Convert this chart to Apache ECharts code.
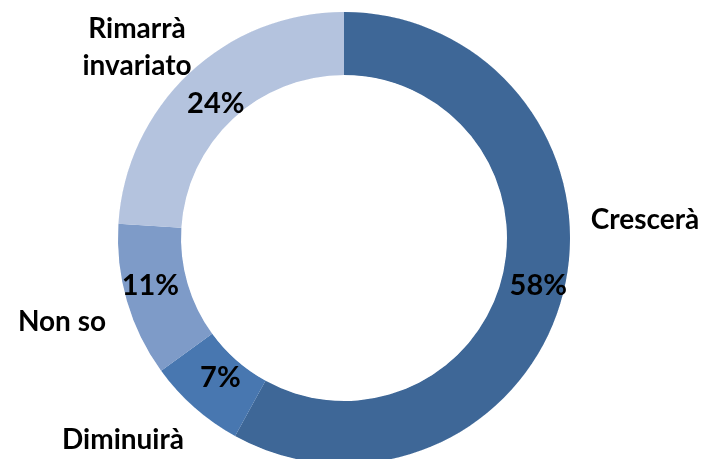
<!DOCTYPE html>
<html>
<head>
<meta charset="utf-8">
<script src="https://cdn.jsdelivr.net/npm/echarts@6/dist/echarts.min.js"></script>
<style>
html,body{margin:0;padding:0;background:#fff;}
#main{width:706px;height:459px;}
</style>
</head>
<body>
<div id="main"></div>
<script>
'use strict';
// dati
var categorie = ['Crescerà', 'Diminuirà', 'Non so', 'Rimarrà\ninvariato'];
var valori = [58, 7, 11, 24];
var colori = ['#3e6797', '#4877b0', '#7e9bc8', '#b4c3de'];
// posizione delle etichette esterne (come nel grafico originale)
var posEtichette = [[645, 220], [123, 440], [62, 322], [137, 47]];
// piccoli spostamenti delle percentuali
var spostPerc = [[3, -1], [7, -9], [-4, -7], [7, 10]];

var FONT = 'Lato, "Liberation Sans", sans-serif';

var dati = categorie.map(function (c, i) {
	return { name: c, value: valori[i], itemStyle: { color: colori[i] } };
});

var chart = echarts.init(document.getElementById('main'));
chart.setOption({
	animation: false,
	series: [
		{
			type: 'pie',
			center: [344, 238],
			radius: [163, 226],
			startAngle: 90,
			clockwise: true,
			data: dati,
			itemStyle: { borderColor: '#fff', borderWidth: 1 },
			label: {
				position: 'inside',
				formatter: '{c}%',
				color: '#000',
				fontFamily: FONT,
				fontWeight: 'bold',
				fontSize: 29
			},
			labelLine: { show: false },
			labelLayout: function (p) {
				var d = spostPerc[p.dataIndex];
				return { dx: d[0], dy: d[1] };
			},
			silent: true
		},
		{
			type: 'pie',
			center: [344, 238],
			radius: [163, 226],
			startAngle: 90,
			clockwise: true,
			data: dati,
			itemStyle: { color: 'rgba(0,0,0,0)' },
			label: {
				position: 'outside',
				alignTo: 'none',
				overflow: 'none',
				formatter: '{b}',
				color: '#000',
				fontFamily: FONT,
				fontWeight: 'bold',
				fontSize: 28,
				lineHeight: 37,
				align: 'center'
			},
			labelLine: { show: false },
			labelLayout: function (p) {
				var pt = posEtichette[p.dataIndex];
				return { x: pt[0], y: pt[1], align: 'center', verticalAlign: 'middle' };
			},
			silent: true
		}
	]
});
</script>
</body>
</html>
